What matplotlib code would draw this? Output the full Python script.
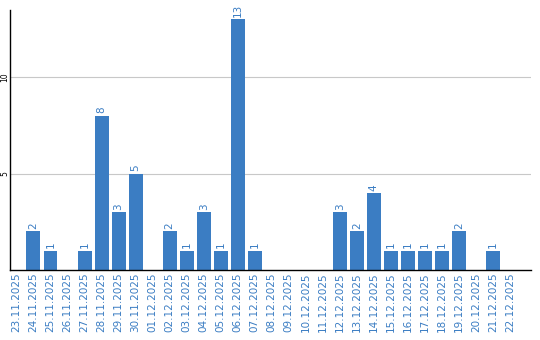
import matplotlib
matplotlib.use('Agg')
import matplotlib.pyplot as plt

dates = ['23.11.2025', '24.11.2025', '25.11.2025', '26.11.2025', '27.11.2025',
         '28.11.2025', '29.11.2025', '30.11.2025', '01.12.2025', '02.12.2025',
         '03.12.2025', '04.12.2025', '05.12.2025', '06.12.2025', '07.12.2025',
         '08.12.2025', '09.12.2025', '10.12.2025', '11.12.2025', '12.12.2025',
         '13.12.2025', '14.12.2025', '15.12.2025', '16.12.2025', '17.12.2025',
         '18.12.2025', '19.12.2025', '20.12.2025', '21.12.2025', '22.12.2025']
counts = [0, 2, 1, 0, 1, 8, 3, 5, 0, 2,
          1, 3, 1, 13, 1, 0, 0, 0, 0, 3,
          2, 4, 1, 1, 1, 1, 2, 0, 1, 0]

bar_color = '#3b7dc3'

fig = plt.figure(figsize=(5.4, 3.4), dpi=100)
ax = fig.add_axes([0.0185, 0.206, 0.965, 0.764])

x = list(range(len(dates)))
ax.bar(x, counts, width=0.82, color=bar_color, zorder=2)

for xi, v in zip(x, counts):
    if v > 0:
        ax.text(xi, v + 0.12, str(v), rotation=90, ha='center', va='bottom',
                color=bar_color, fontsize=7.5)

ax.set_xlim(-0.38, 30.24)
ax.set_ylim(0, 13.47)
ax.set_yticks([5, 10])
ax.set_yticklabels(['5', '10'], rotation=90, va='center', fontsize=5.5)
ax.set_xticks(x)
ax.set_xticklabels(dates, rotation=90, fontsize=7.5, color=bar_color)
ax.tick_params(axis='x', length=0, pad=2)
ax.tick_params(axis='y', length=0, pad=0.5)
ax.grid(axis='y', color='#c8c8c8', linewidth=0.8, zorder=0)

for s in ['top', 'right']:
    ax.spines[s].set_visible(False)
ax.spines['left'].set_linewidth(1)
ax.spines['bottom'].set_linewidth(1)

fig.savefig('out.png', dpi=100)
